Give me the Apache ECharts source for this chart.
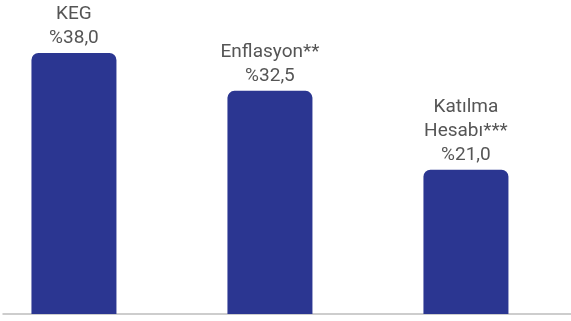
<!DOCTYPE html>
<html><head><meta charset="utf-8">
<script src="https://cdn.jsdelivr.net/npm/echarts@6/dist/echarts.min.js"></script>
<style>html,body{margin:0;padding:0;background:#fff}#c{width:571px;height:321px}</style>
</head><body><div id="c"></div>
<script>
var categories = ['KEG', 'Enflasyon**', 'Katılma\nHesabı***'];
var values = [38.0, 32.5, 21.0];
var positions = [0, 1, 2];

var chart = echarts.init(document.getElementById('c'), null, {renderer: 'canvas'});
chart.setOption({
  animation: false,
  grid: {left: 3, right: 0, top: 5, bottom: 7},
  xAxis: {
    type: 'value', min: -0.362, max: 2.536,
    axisLine: {show: true, onZero: false, lineStyle: {color: '#bdbdbd', width: 1.5}},
    axisTick: {show: false}, axisLabel: {show: false}, splitLine: {show: false}
  },
  yAxis: {
    type: 'value', min: 0, max: 45,
    axisLine: {show: false}, axisTick: {show: false}, axisLabel: {show: false}, splitLine: {show: false}
  },
  series: [{
    type: 'bar',
    barWidth: 85,
    data: positions.map(function (p, i) { return [p, values[i]]; }),
    itemStyle: {color: '#2b3691', borderRadius: [7, 7, 0, 0]},
    label: {
      show: true, position: 'top', distance: 3,
      fontFamily: 'Roboto', fontSize: 19, lineHeight: 24, color: '#555555', align: 'center',
      formatter: function (p) {
        return categories[p.dataIndex] + '\n%' + values[p.dataIndex].toFixed(1).replace('.', ',');
      }
    }
  }]
});
</script></body></html>
